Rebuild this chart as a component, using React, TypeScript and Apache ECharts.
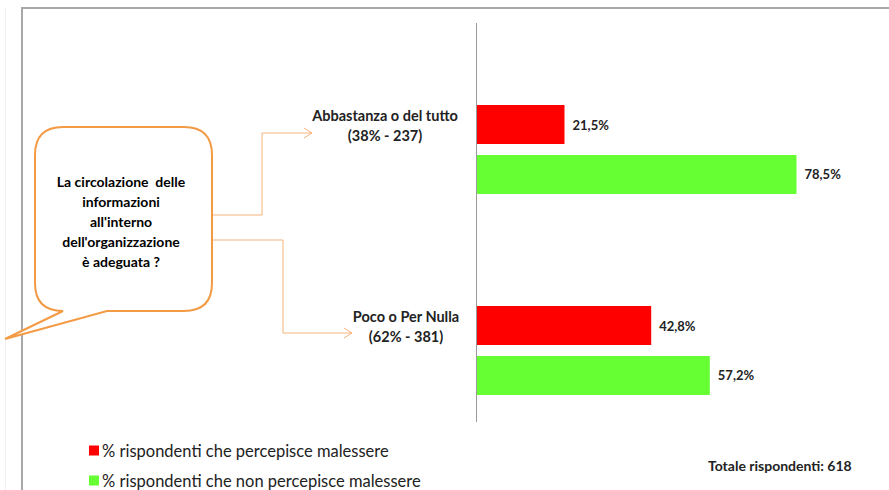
import React, { useEffect, useRef } from "react";
import * as echarts from "echarts";

const categories = ["Abbastanza o del tutto", "Poco o Per Nulla"];
const groupPct = [38, 62];
const groupCount = [237, 381];
const malessere = [21.5, 42.8];
const nonMalessere = [78.5, 57.2];
const seriesNames = [
  "% rispondenti che percepisce malessere",
  "% rispondenti che non percepisce malessere",
];
const totalRespondents = 618;
const questionLines = [
  "La circolazione  delle",
  "informazioni",
  "all'interno",
  "dell'organizzazione",
  "è adeguata ?",
];

const FONT = "Lato, 'Open Sans', sans-serif";
const ORANGE = "#F39A45";
const ARROW = "#F6B27A";

const bubblePath =
  "M 63 127 L 184 127 Q 212 127 212 155 L 212 283 Q 212 311 184 311 L 107 311 L 5 339 L 63 311 L 63 311 Q 35 311 35 283 L 35 155 Q 35 127 63 127 Z";

const fmt = (v: number) => v.toFixed(1).replace(".", ",") + "%";

export default function App() {
  const ref = useRef<HTMLDivElement>(null);
  useEffect(() => {
    if (!ref.current) return;
    echarts.graphic.registerShape("bubble", echarts.graphic.extendPath(bubblePath, {}) as any);
    const chart = echarts.init(ref.current, null, { renderer: "svg" });
    const labelStyle = {
      position: "right" as const,
      distance: 8,
      fontFamily: FONT,
      fontWeight: "bold" as const,
      fontSize: 13,
      color: "#222",
      formatter: (p: any) => fmt(p.value),
    };
    const catRich = { fontFamily: FONT, fontWeight: "bold", fontSize: 14.5, lineHeight: 20, color: "#222", align: "center" };
    chart.setOption({
      animation: false,
      backgroundColor: "#fff",
      textStyle: { fontFamily: FONT },
      grid: { left: 477, width: 407, top: 49, height: 402 },
      xAxis: { type: "value", min: 0, max: 100, show: false },
      yAxis: {
        type: "category",
        inverse: true,
        data: categories,
        axisLine: { show: false },
        axisTick: { show: false },
        axisLabel: {
          margin: 16,
          align: "right",
          padding: [0, 0, 48, 0],
          formatter: (v: string, i: number) =>
            `{w${i}|${v}}\n{w${i}|(${groupPct[i]}% - ${groupCount[i]})}`,
          rich: {
            w0: { ...catRich, width: 152 },
            w1: { ...catRich, width: 110 },
          },
        },
      },
      legend: {
        orient: "vertical",
        left: 89,
        top: 442,
        height: 80,
        padding: 0,
        itemWidth: 10,
        itemHeight: 10,
        itemGap: 13,
        icon: "rect",
        data: seriesNames,
        textStyle: { fontFamily: FONT, fontSize: 16.5, color: "#222", padding: [0, 0, 0, -2] },
      },
      series: [
        {
          name: seriesNames[0],
          type: "bar",
          data: malessere,
          barWidth: 39,
          barGap: "28%",
          itemStyle: { color: "#FF0000" },
          label: { show: true, ...labelStyle },
        },
        {
          name: seriesNames[1],
          type: "bar",
          data: nonMalessere,
          barWidth: 39,
          itemStyle: { color: "#66FF33" },
          label: { show: true, ...labelStyle },
        },
      ],
      graphic: [
        { type: "line", shape: { x1: 5.5, y1: 8, x2: 5.5, y2: 490 }, style: { stroke: "#f0f0f0", lineWidth: 1 } },
        { type: "polyline", shape: { points: [[22, 490], [22, 8], [889, 8]] }, style: { stroke: "#a8a8a8", lineWidth: 2, fill: null } },
        { type: "line", shape: { x1: 476.5, y1: 23, x2: 476.5, y2: 422 }, style: { stroke: "#9a9a9a", lineWidth: 1 } },
        { type: "bubble", x: 0, y: 0, style: { fill: "#fff", stroke: ORANGE, lineWidth: 2 } },
        {
          type: "text",
          x: 121,
          y: 221.5,
          style: {
            text: questionLines.join("\n"),
            align: "center",
            verticalAlign: "middle",
            lineHeight: 20,
            font: `bold 14px ${FONT}`,
            fill: "#000",
          },
        },
        { type: "polyline", shape: { points: [[213, 215], [262, 215], [262, 133], [312, 133]] }, style: { stroke: ARROW, lineWidth: 1, fill: null } },
        { type: "polyline", shape: { points: [[304, 128], [312, 133], [304, 138]] }, style: { stroke: ARROW, lineWidth: 1, fill: null } },
        { type: "polyline", shape: { points: [[213, 240], [283, 240], [283, 333], [352, 333]] }, style: { stroke: ARROW, lineWidth: 1, fill: null } },
        { type: "polyline", shape: { points: [[344, 328], [352, 333], [344, 338]] }, style: { stroke: ARROW, lineWidth: 1, fill: null } },
        {
          type: "text",
          x: 708,
          y: 465,
          style: {
            text: `Totale rispondenti: ${totalRespondents}`,
            align: "left",
            verticalAlign: "middle",
            font: `bold 14px ${FONT}`,
            fill: "#222",
          },
        },
      ],
    });
    return () => chart.dispose();
  }, []);
  return (
    <div
      ref={ref}
      style={{ position: "fixed", left: 0, top: 0, width: 889, height: 490, background: "#fff" }}
    />
  );
}
